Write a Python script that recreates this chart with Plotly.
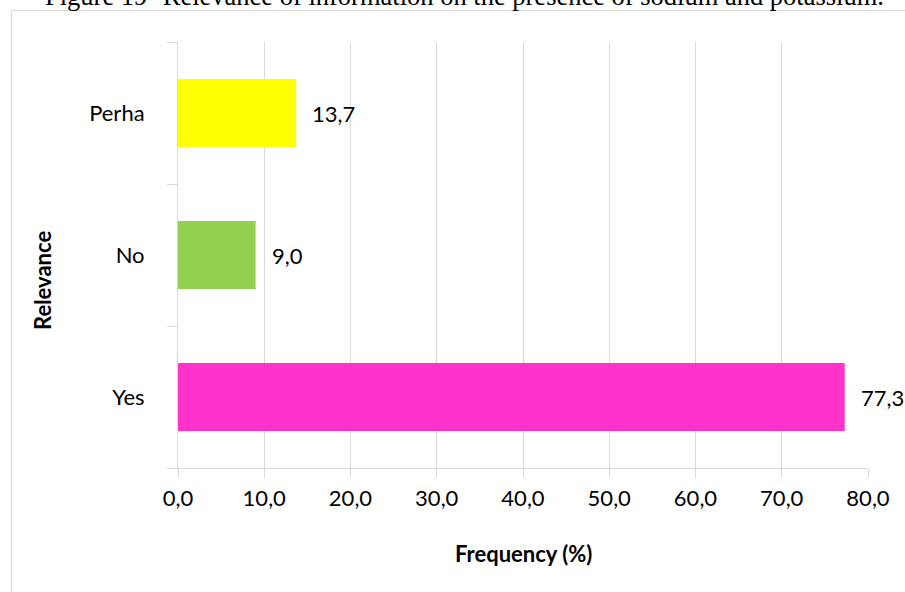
import plotly.graph_objects as go

# Survey answers: relevance of sodium/potassium information (percent of respondents)
categories = ["Yes", "No", "Perha"]
frequency = [77.3, 9.0, 13.7]
bar_colors = ["#ff33cc", "#92d050", "#ffff00"]
x_ticks = [0, 10, 20, 30, 40, 50, 60, 70, 80]

caption = "Figure 19- Relevance of information on the presence of sodium and potassium."
x_title = "Frequency (%)"
y_title = "Relevance"

W, H = 905, 592
ML, MR, MT, MB = 178, 37, 42, 124
pw, ph = W - ML - MR, H - MT - MB


def px_x(px):
    return (px - ML) / pw


def px_y(py):
    return (H - MB - py) / ph


font_main = "Lato, Carlito, 'Open Sans', sans-serif"
grid_c = "#d9d9d9"
txt_c = "#000000"

fig = go.Figure(
    go.Bar(
        y=categories,
        x=frequency,
        orientation="h",
        width=0.48,
        marker=dict(color=bar_colors, line=dict(width=0)),
        hoverinfo="skip",
    )
)

annotations = []
# value labels next to each bar
for cat, val in zip(categories, frequency):
    annotations.append(dict(
        x=val, y=cat, xref="x", yref="y",
        text=f"{val:.1f}".replace(".", ","),
        showarrow=False, xanchor="left", yanchor="middle", xshift=14,
        font=dict(family=font_main, size=22, color=txt_c),
    ))

annotations += [
    dict(x=0.5, y=px_y(553), xref="paper", yref="paper", text=f"<b>{x_title}</b>",
         showarrow=False, xanchor="center", yanchor="middle",
         font=dict(family=font_main, size=22, color=txt_c)),
    dict(x=px_x(42), y=px_y(281), xref="paper", yref="paper", text=f"<b>{y_title}</b>",
         showarrow=False, xanchor="center", yanchor="middle", textangle=-90,
         font=dict(family=font_main, size=22, color=txt_c)),
    dict(x=px_x(464), y=px_y(-4), xref="paper", yref="paper", text=caption,
         showarrow=False, xanchor="center", yanchor="middle",
         font=dict(family="'Liberation Serif', 'Times New Roman', serif", size=26.5, color="#000")),
]

fig.update_layout(
    width=W, height=H,
    margin=dict(l=ML, r=MR, t=MT, b=MB, autoexpand=False),
    paper_bgcolor="white", plot_bgcolor="white",
    separators=",.",
    showlegend=False,
    annotations=annotations,
    shapes=[dict(type="rect", xref="paper", yref="paper",
                 x0=px_x(11.5), x1=px_x(915), y0=px_y(605), y1=px_y(10.5),
                 line=dict(color=grid_c, width=1), fillcolor="rgba(0,0,0,0)", layer="below")],
    xaxis=dict(
        range=[0, 80], tickvals=x_ticks, tickformat=".1f",
        showgrid=True, gridcolor=grid_c, gridwidth=1, zeroline=False,
        showline=True, linecolor=grid_c, linewidth=1,
        ticks="outside", ticklen=9, tickcolor=grid_c, tickwidth=1,
        ticklabelstandoff=2,
        tickfont=dict(family=font_main, size=22, color=txt_c),
    ),
    yaxis=dict(
        type="category", categoryorder="array", categoryarray=categories,
        showgrid=False, zeroline=False,
        showline=True, linecolor=grid_c, linewidth=1,
        ticks="outside", tickson="boundaries", ticklen=10, tickcolor=grid_c, tickwidth=1,
        ticklabelstandoff=28,
        tickfont=dict(family=font_main, size=22, color=txt_c),
    ),
)

fig.write_html("out.html")
